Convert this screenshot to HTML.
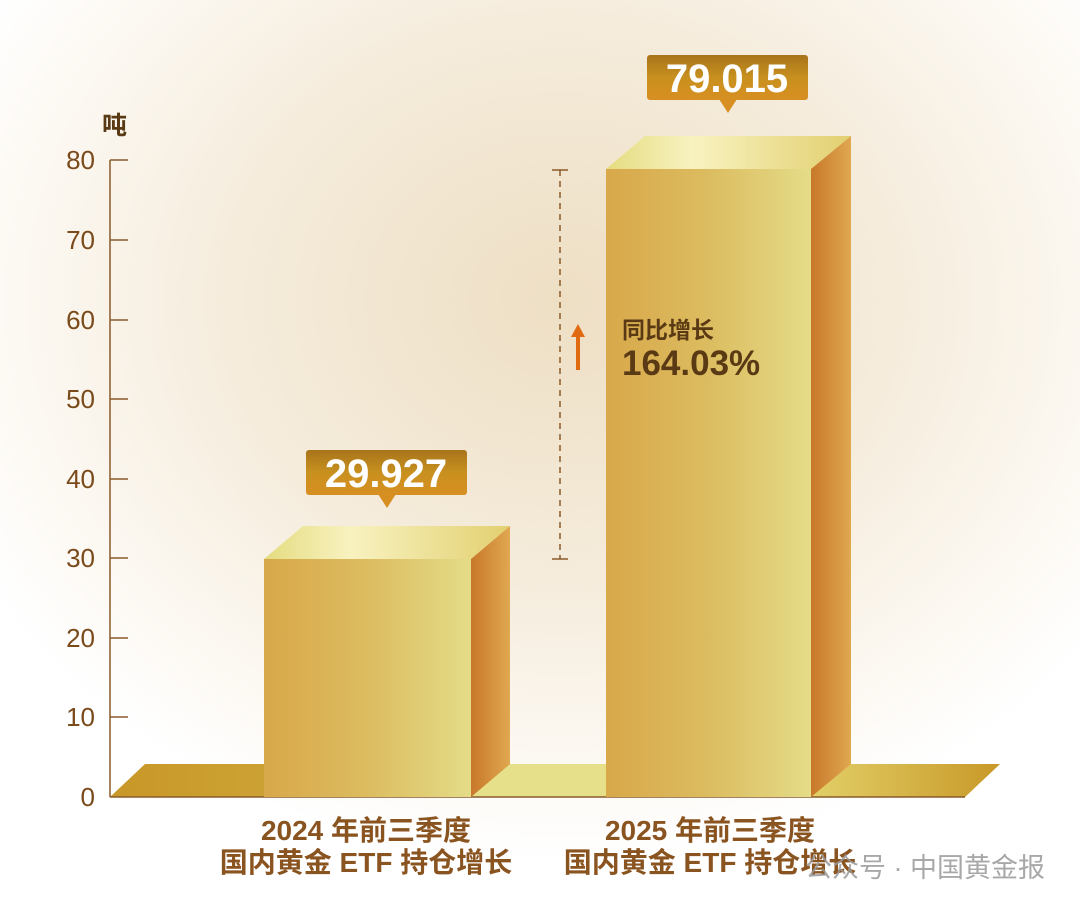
<!DOCTYPE html>
<html><head><meta charset="utf-8"><style>
body{margin:0;width:1080px;height:910px;overflow:hidden;background:#fff;font-family:"Liberation Sans","Noto Sans CJK SC",sans-serif;}
</style></head><body>
<svg width="1080" height="910" viewBox="0 0 1080 910" xmlns="http://www.w3.org/2000/svg">
<defs>
<radialGradient id="bg" cx="0.52" cy="0.33" r="0.62">
<stop offset="0" stop-color="#eedfc4"/><stop offset="0.5" stop-color="#f5ecdc"/><stop offset="0.85" stop-color="#fdfaf5"/><stop offset="1" stop-color="#ffffff"/>
</radialGradient>
<linearGradient id="front" x1="0" x2="1"><stop offset="0" stop-color="#d8a84a"/><stop offset="0.5" stop-color="#dcbc60"/><stop offset="1" stop-color="#e4dc88"/></linearGradient>
<linearGradient id="side" x1="0" x2="1"><stop offset="0" stop-color="#c8782a"/><stop offset="1" stop-color="#e0a850"/></linearGradient>
<linearGradient id="top" x1="0" x2="1"><stop offset="0" stop-color="#e4dc80"/><stop offset="0.35" stop-color="#f8f2c0"/><stop offset="1" stop-color="#e2d070"/></linearGradient>
<linearGradient id="floorL" x1="0" x2="1"><stop offset="0" stop-color="#c89828"/><stop offset="1" stop-color="#e2cc6a"/></linearGradient>
<linearGradient id="floorR" x1="0" x2="1"><stop offset="0" stop-color="#e2d068"/><stop offset="1" stop-color="#c89828"/></linearGradient>
<linearGradient id="lab" x1="0" y1="0" x2="0" y2="1"><stop offset="0" stop-color="#a8741c"/><stop offset="0.5" stop-color="#c8901e"/><stop offset="1" stop-color="#d88f22"/></linearGradient>
</defs>
<rect width="1080" height="910" fill="url(#bg)"/>
<!-- floor -->
<polygon points="110,797 145,764 1000,764 965,797" fill="url(#floorL)"/>
<polygon points="471,797 510,764 606,764 606,797" fill="#e6e08a"/>
<polygon points="811,797 851,764 1000,764 965,797" fill="url(#floorR)"/>
<!-- axis -->
<line x1="110" y1="160" x2="110" y2="797" stroke="#8a5a2a" stroke-width="1.5"/>
<line x1="110" y1="797" x2="965" y2="797" stroke="#8a5a2a" stroke-width="1.5"/>
<g stroke="#8a5a2a" stroke-width="1.5">
<line x1="110" y1="160" x2="128" y2="160"/><line x1="110" y1="240" x2="128" y2="240"/><line x1="110" y1="320" x2="128" y2="320"/><line x1="110" y1="399" x2="128" y2="399"/><line x1="110" y1="479" x2="128" y2="479"/><line x1="110" y1="558" x2="128" y2="558"/><line x1="110" y1="638" x2="128" y2="638"/><line x1="110" y1="717" x2="128" y2="717"/>
</g>
<g fill="#7a4a1a" font-size="26" text-anchor="end">
<text x="95" y="169">80</text><text x="95" y="249">70</text><text x="95" y="329">60</text><text x="95" y="408">50</text><text x="95" y="488">40</text><text x="95" y="567">30</text><text x="95" y="647">20</text><text x="95" y="726">10</text><text x="95" y="806">0</text>
</g>
<text x="102" y="134" fill="#5a3a14" font-size="25" font-weight="bold">吨</text>
<!-- bar1 -->
<polygon points="264,559 303,526 510,526 471,559" fill="url(#top)"/>
<rect x="264" y="559" width="207" height="238" fill="url(#front)"/>
<polygon points="471,559 510,526 510,764 471,797" fill="url(#side)"/>
<!-- bar2 -->
<polygon points="606,169 645,136 851,136 811,169" fill="url(#top)"/>
<rect x="606" y="169" width="205" height="628" fill="url(#front)"/>
<polygon points="811,169 851,136 851,764 811,797" fill="url(#side)"/>
<!-- labels -->
<rect x="306" y="450" width="161" height="45" rx="3" fill="url(#lab)"/>
<polygon points="378,494 396,494 387,508" fill="#d88f22"/>
<text x="386" y="487" fill="#fff" font-size="40" font-weight="bold" text-anchor="middle">29.927</text>
<rect x="647" y="55" width="161" height="45" rx="3" fill="url(#lab)"/>
<polygon points="719,99 737,99 728,113" fill="#d88f22"/>
<text x="727" y="92" fill="#fff" font-size="40" font-weight="bold" text-anchor="middle">79.015</text>
<!-- dashed -->
<line x1="560" y1="170" x2="560" y2="559" stroke="#8a5a2a" stroke-width="1.5" stroke-dasharray="6,5"/>
<line x1="552" y1="170" x2="568" y2="170" stroke="#8a5a2a" stroke-width="1.5"/>
<line x1="552" y1="559" x2="568" y2="559" stroke="#8a5a2a" stroke-width="1.5"/>
<line x1="578" y1="370" x2="578" y2="335" stroke="#e06a10" stroke-width="4"/>
<polygon points="571,337 585,337 578,324" fill="#e06a10"/>
<text x="622" y="338" fill="#5a3a14" font-size="23" font-weight="bold">同比增长</text>
<text x="622" y="375" fill="#5a3a14" font-size="35" font-weight="bold">164.03%</text>
<!-- category labels -->
<g fill="#8a5420" font-size="28" font-weight="bold" text-anchor="middle">
<text x="366" y="840">2024 年前三季度</text><text x="366" y="872">国内黄金 ETF 持仓增长</text>
<text x="710" y="840">2025 年前三季度</text><text x="710" y="872">国内黄金 ETF 持仓增长</text>
</g>
<text x="1045" y="877" fill="#999" font-size="27" text-anchor="end" opacity="0.85">公众号 · 中国黄金报</text>
</svg>
</body></html>
